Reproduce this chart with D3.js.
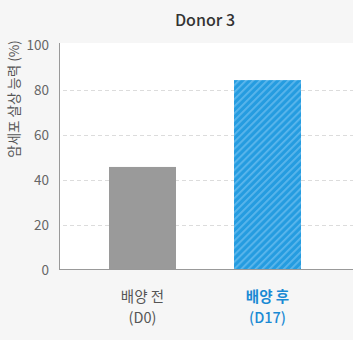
<!DOCTYPE html>
<html>
<head>
<meta charset="utf-8">
<script src="https://cdn.jsdelivr.net/npm/d3@7"></script>
<style>
  body { margin: 0; background: #f6f6f6; }
  svg { display: block; font-family: "Noto Sans CJK KR", "Noto Sans", sans-serif; }
</style>
</head>
<body>
<svg id="chart" width="353" height="340"></svg>
<script>
let categories = ['배양 전', '배양 후'];
let subLabels = ['(D0)', '(D17)'];
let values = [45.8, 84.4];
let yTicks = [0, 20, 40, 60, 80, 100];

let svg = d3.select('#chart');

let plotLeft = 60, plotRight = 353, plotTop = 43, plotBottom = 270;

let x = d3.scaleBand().domain(categories).range([80, 330]).paddingInner(0.464).paddingOuter(0.232);
let y = d3.scaleLinear().domain([0, 100]).range([plotBottom, 45]);

// stripes for the second bar
let defs = svg.append('defs');
let pat = defs.append('pattern')
    .attr('id', 'stripes')
    .attr('patternUnits', 'userSpaceOnUse')
    .attr('width', 5).attr('height', 5)
    .attr('patternTransform', 'rotate(45)');
pat.append('rect').attr('width', 5).attr('height', 5).attr('fill', '#259ce0');
pat.append('rect').attr('width', 1.8).attr('height', 5).attr('fill', '#5cb6ec');

// plot area
svg.append('rect')
    .attr('x', plotLeft).attr('y', plotTop)
    .attr('width', plotRight - plotLeft).attr('height', plotBottom - plotTop)
    .attr('fill', '#fff');

// grid
svg.selectAll('.grid')
    .data(yTicks.filter(d => d > 0 && d < 100))
    .enter()
    .append('line')
    .attr('x1', plotLeft + 3).attr('x2', plotRight)
    .attr('y1', d => y(d) + 0.5).attr('y2', d => y(d) + 0.5)
    .attr('stroke', '#dcdcdc')
    .attr('stroke-dasharray', '4,3');

// bars
svg.selectAll('.bar')
    .data(values)
    .enter()
    .append('rect')
    .attr('x', (d, i) => x(categories[i]))
    .attr('width', x.bandwidth())
    .attr('y', d => y(d))
    .attr('height', d => y(0) - y(d))
    .attr('fill', (d, i) => i === 0 ? '#9a9a9a' : 'url(#stripes)');

// axes lines
svg.append('line')
    .attr('x1', plotLeft - 0.5).attr('x2', plotLeft - 0.5)
    .attr('y1', plotTop).attr('y2', plotBottom)
    .attr('stroke', '#999');
svg.append('line')
    .attr('x1', plotLeft - 1).attr('x2', plotRight)
    .attr('y1', plotBottom - 0.5).attr('y2', plotBottom - 0.5)
    .attr('stroke', '#999');

// y tick labels
svg.selectAll('.ytick')
    .data(yTicks)
    .enter()
    .append('text')
    .attr('x', 49)
    .attr('y', d => y(d))
    .attr('dy', '0.35em')
    .attr('text-anchor', 'end')
    .attr('font-size', 13.5)
    .attr('fill', '#666')
    .text(d => d);

// x labels
categories.forEach((c, i) => {
    let cx = x(c) + x.bandwidth() / 2;
    let col = i === 0 ? '#555' : '#1a8ad4';
    let wt = i === 0 ? 400 : 700;
    svg.append('text')
        .attr('x', cx).attr('y', 302)
        .attr('text-anchor', 'middle')
        .attr('font-size', 14.5).attr('font-weight', wt)
        .attr('fill', col)
        .text(c);
    svg.append('text')
        .attr('x', cx).attr('y', 323)
        .attr('text-anchor', 'middle')
        .attr('font-size', 14.5).attr('font-weight', i === 0 ? 400 : 500)
        .attr('fill', col)
        .text(subLabels[i]);
});

// title
svg.append('text')
    .attr('x', 205).attr('y', 26)
    .attr('text-anchor', 'middle')
    .attr('font-size', 16).attr('font-weight', 500)
    .attr('fill', '#333')
    .text('Donor 3');

// y axis title
svg.append('text')
    .attr('transform', 'translate(14,99) rotate(-90)')
    .attr('text-anchor', 'middle')
    .attr('dy', '0.35em')
    .attr('font-size', 13.5)
    .attr('fill', '#555')
    .text('암세포 살상 능력 (%)');
</script>
</body>
</html>
